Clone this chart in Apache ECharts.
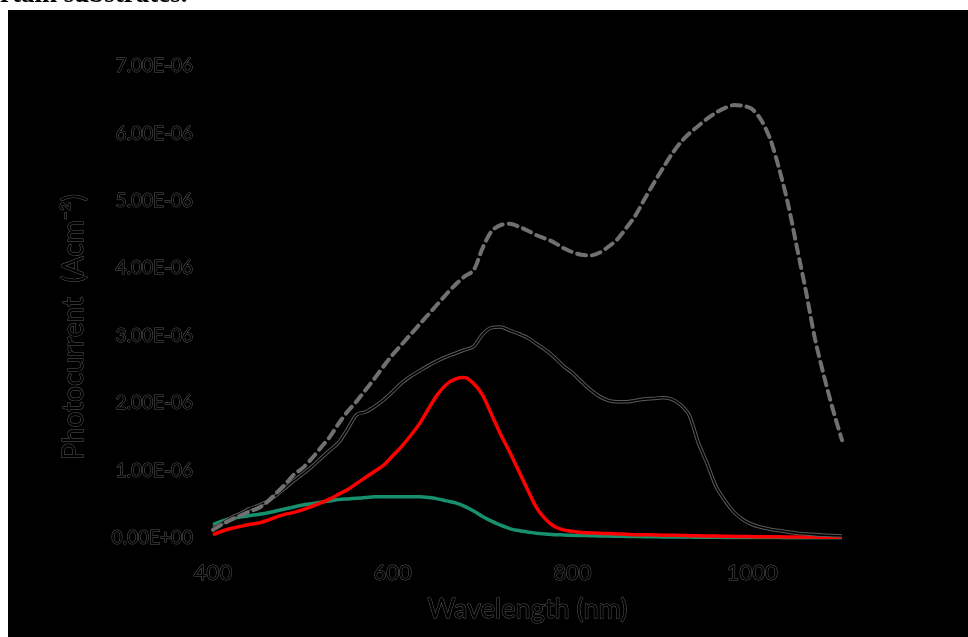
<!DOCTYPE html>
<html>
<head>
<meta charset="utf-8">
<title>Photocurrent spectra</title>
<script src="https://cdn.jsdelivr.net/npm/echarts@6/dist/echarts.min.js"></script>
<style>
  html, body { margin: 0; padding: 0; background: #ffffff; }
  #chart { width: 968px; height: 637px; }
</style>
</head>
<body>
<div id="chart"></div>
<script>
// Wavelength grid (nm), 10 nm steps
const wavelengths = [
  400, 410, 420, 430, 440, 450, 460, 470, 480, 490,
  500, 510, 520, 530, 540, 550, 560, 570, 580, 590,
  600, 610, 620, 630, 640, 650, 660, 670, 680, 690,
  700, 710, 720, 730, 740, 750, 760, 770, 780, 790,
  800, 810, 820, 830, 840, 850, 860, 870, 880, 890,
  900, 910, 920, 930, 940, 950, 960, 970, 980, 990,
  1000, 1010, 1020, 1030, 1040, 1050, 1060, 1070, 1080, 1090,
  1100
];

// Photocurrent values in units of 1E-06 A cm^-2
const dashedGrey = [
  0.12, 0.20, 0.27, 0.33, 0.39, 0.44, 0.53, 0.66, 0.79, 0.94,
  1.04, 1.18, 1.34, 1.50, 1.70, 1.88, 2.03, 2.20, 2.37, 2.55,
  2.72, 2.87, 3.02, 3.17, 3.32, 3.47, 3.62, 3.76, 3.88, 3.97,
  4.30, 4.55, 4.64, 4.66, 4.62, 4.56, 4.49, 4.44, 4.38, 4.30,
  4.24, 4.20, 4.19, 4.23, 4.32, 4.43, 4.60, 4.78, 5.02, 5.25,
  5.47, 5.68, 5.86, 6.00, 6.11, 6.22, 6.31, 6.38, 6.42, 6.41,
  6.36, 6.20, 5.92, 5.48, 4.95, 4.30, 3.65, 2.95, 2.40, 1.90,
  1.45
];

const blackSolid = [
  0.15, 0.22, 0.30, 0.36, 0.43, 0.48, 0.54, 0.63, 0.74, 0.85,
  0.95, 1.06, 1.18, 1.30, 1.42, 1.62, 1.83, 1.87, 1.95, 2.05,
  2.17, 2.30, 2.40, 2.48, 2.56, 2.63, 2.69, 2.74, 2.79, 2.84,
  3.02, 3.12, 3.13, 3.08, 3.03, 2.97, 2.88, 2.79, 2.68, 2.55,
  2.45, 2.32, 2.20, 2.10, 2.04, 2.02, 2.02, 2.04, 2.06, 2.07,
  2.08, 2.06, 1.98, 1.82, 1.42, 1.10, 0.76, 0.55, 0.38, 0.27,
  0.20, 0.16, 0.13, 0.11, 0.09, 0.07, 0.06, 0.05, 0.04, 0.035,
  0.03
];

const redSolid = [
  0.05, 0.10, 0.14, 0.17, 0.20, 0.22, 0.26, 0.31, 0.35, 0.38,
  0.42, 0.47, 0.52, 0.58, 0.65, 0.72, 0.81, 0.90, 0.99, 1.08,
  1.22, 1.36, 1.52, 1.70, 1.92, 2.13, 2.28, 2.36, 2.38, 2.29,
  2.12, 1.83, 1.54, 1.28, 1.00, 0.72, 0.45, 0.28, 0.17, 0.12,
  0.10, 0.08, 0.075, 0.07, 0.065, 0.06, 0.055, 0.05, 0.048, 0.045,
  0.042, 0.04, 0.038, 0.035, 0.033, 0.03, 0.028, 0.026, 0.024, 0.022,
  0.02, 0.019, 0.018, 0.017, 0.016, 0.015, 0.014, 0.013, 0.012, 0.011,
  0.01
];

const greenSolid = [
  0.20, 0.25, 0.29, 0.31, 0.33, 0.35, 0.37, 0.40, 0.43, 0.46,
  0.49, 0.51, 0.53, 0.55, 0.57, 0.58, 0.59, 0.60, 0.61, 0.61,
  0.61, 0.61, 0.61, 0.61, 0.60, 0.58, 0.55, 0.52, 0.47, 0.40,
  0.32, 0.25, 0.19, 0.14, 0.11, 0.09, 0.07, 0.06, 0.05, 0.045,
  0.04, 0.037, 0.034, 0.031, 0.028, 0.026, 0.024, 0.022, 0.02, 0.018,
  0.016, 0.015, 0.014, 0.013, 0.012, 0.011, 0.01, 0.009, 0.008, 0.008,
  0.007, 0.007, 0.006, 0.006, 0.005, 0.005, 0.004, 0.004, 0.003, 0.003,
  0.002
];

const xTicks = { min: 400, max: 1100, interval: 200 };
const yTicks = { min: 0, max: 7, interval: 1 };

function pairs(values) {
  return wavelengths.map((w, i) => [w, values[i]]);
}

function sciLabel(v) {
  if (v === 0) return '0.00E+00';
  return v.toFixed(2) + 'E-06';
}

// Black glyphs with a faint grey rim
const rimText = {
  color: '#000000',
  textBorderColor: '#585858',
  textBorderWidth: 1,
  fontFamily: 'Lato, "Open Sans", sans-serif'
};

const chart = echarts.init(document.getElementById('chart'), null, { renderer: 'canvas' });

chart.setOption({
  backgroundColor: '#ffffff',
  animation: false,
  graphic: [
    {
      type: 'text',
      left: -24,
      top: -18,
      z: -20,
      style: {
        text: 'certain substrates.',
        fill: '#000000',
        font: 'bold 27px "Liberation Serif", "DejaVu Serif", serif'
      }
    },
    {
      type: 'rect',
      z: -10,
      shape: { x: 8, y: 10, width: 960, height: 627 },
      style: { fill: '#000000' }
    }
  ],
  grid: { left: 213, right: 126, top: 66, bottom: 99 },
  xAxis: {
    type: 'value',
    min: xTicks.min,
    max: xTicks.max,
    interval: xTicks.interval,
    name: 'Wavelength (nm)',
    nameLocation: 'middle',
    nameGap: 58,
    nameTextStyle: Object.assign({}, rimText, { fontSize: 27 }),
    axisLine: { show: true, lineStyle: { color: '#000000' } },
    axisTick: { show: false },
    splitLine: { show: false },
    axisLabel: Object.assign({}, rimText, {
      fontSize: 22,
      margin: 24,
      showMaxLabel: false,
      formatter: (v) => String(v)
    })
  },
  yAxis: {
    type: 'value',
    min: yTicks.min,
    max: yTicks.max,
    interval: yTicks.interval,
    name: 'Photocurrent  (Acm\u207B\u00B2)',
    nameLocation: 'middle',
    nameGap: 125,
    nameTextStyle: Object.assign({}, rimText, { fontSize: 28, padding: [0, 50, 0, 0] }),
    axisLine: { show: true, lineStyle: { color: '#000000' } },
    axisTick: { show: false },
    splitLine: { show: false },
    axisLabel: Object.assign({}, rimText, {
      fontSize: 19,
      margin: 20,
      formatter: sciLabel
    })
  },
  series: [
    {
      name: 'green',
      type: 'line',
      data: pairs(greenSolid),
      smooth: 0.3,
      showSymbol: false,
      lineStyle: { color: '#17906e', width: 3.5 },
      z: 2
    },
    {
      name: 'red',
      type: 'line',
      data: pairs(redSolid),
      smooth: 0.3,
      showSymbol: false,
      lineStyle: { color: '#ff0000', width: 3.5 },
      z: 3
    },
    {
      name: 'black rim',
      type: 'line',
      data: pairs(blackSolid),
      smooth: 0.3,
      showSymbol: false,
      lineStyle: { color: '#5a5a5a', width: 3.6 },
      z: 4
    },
    {
      name: 'black',
      type: 'line',
      data: pairs(blackSolid),
      smooth: 0.3,
      showSymbol: false,
      lineStyle: { color: '#000000', width: 1.6 },
      z: 5
    },
    {
      name: 'grey dashed',
      type: 'line',
      data: pairs(dashedGrey),
      smooth: 0.3,
      showSymbol: false,
      lineStyle: { color: '#707070', width: 4, type: [9, 6], cap: 'round' },
      z: 6
    }
  ]
});
</script>
</body>
</html>
